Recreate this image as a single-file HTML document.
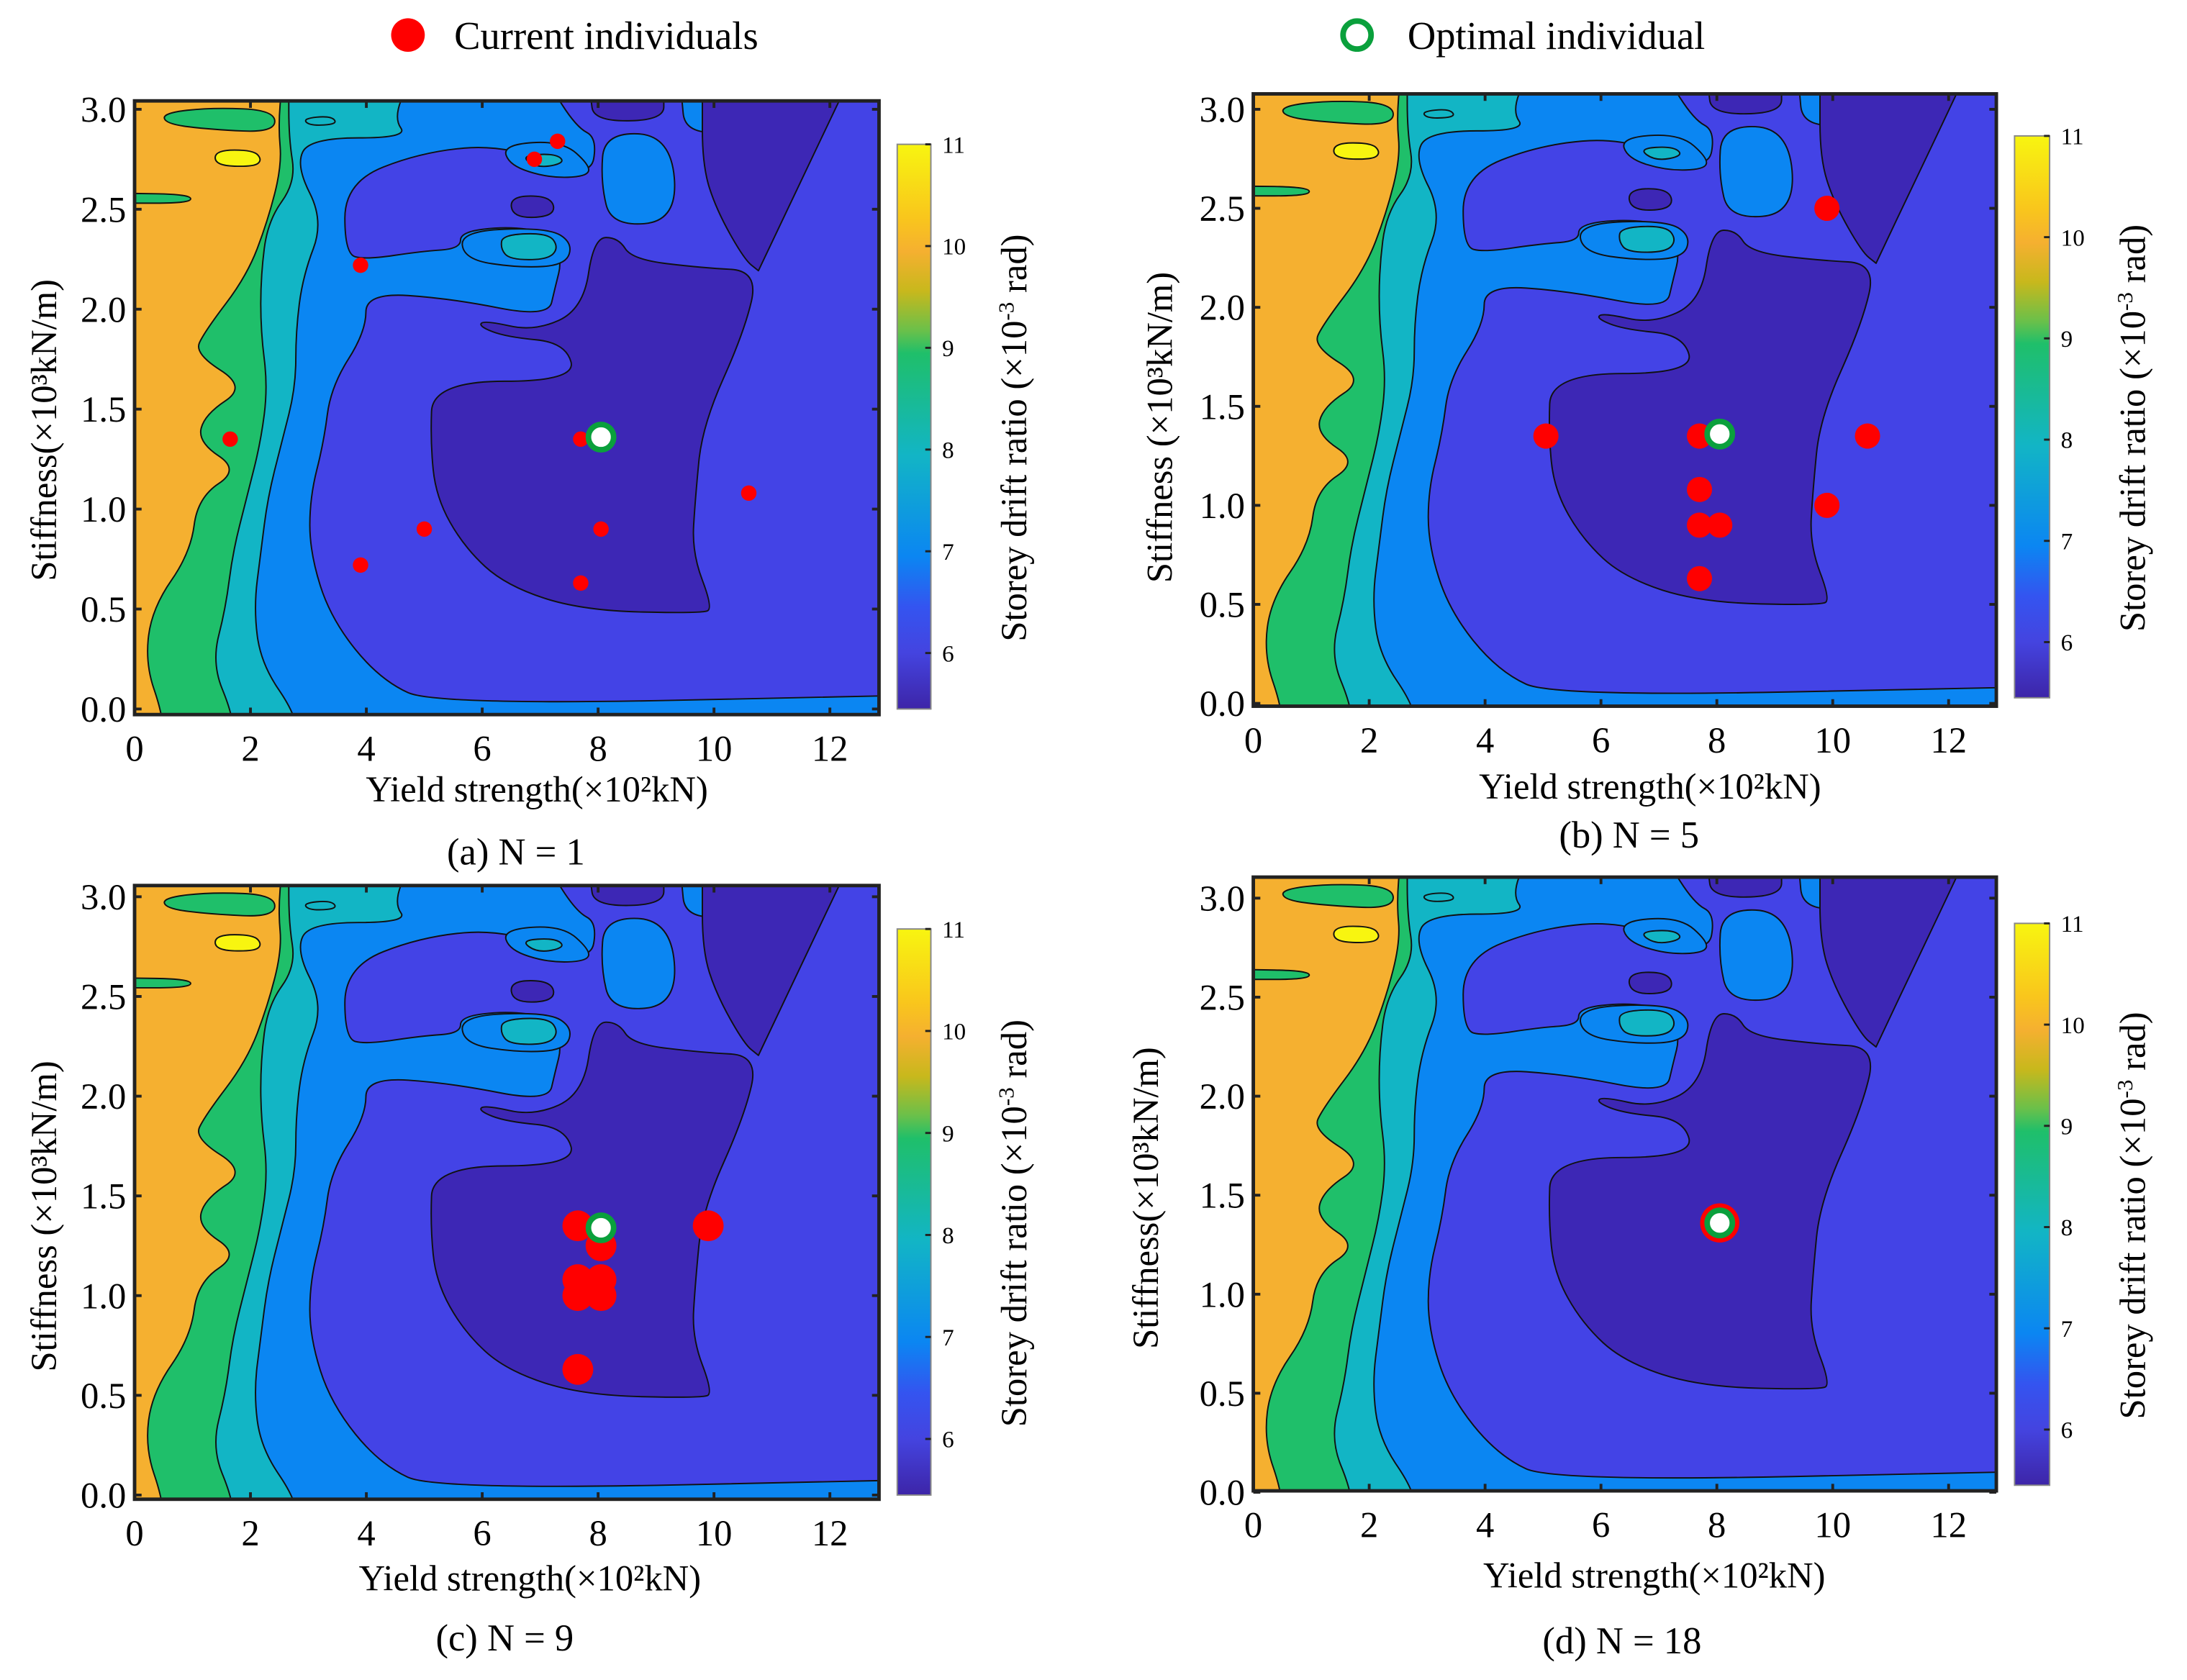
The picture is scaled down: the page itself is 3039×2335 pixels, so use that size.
<!DOCTYPE html>
<html><head><meta charset="utf-8"><style>
html,body{margin:0;padding:0;background:#fff}
svg{display:block}
text{font-family:"Liberation Serif",serif;fill:#000}
</style></head><body>
<svg id="fig" width="3039" height="2335" viewBox="0 0 1560 1199" preserveAspectRatio="none" xmlns="http://www.w3.org/2000/svg">
<defs>
<linearGradient id="cbg" x1="0" y1="0" x2="0" y2="1">
<stop offset="0" stop-color="#f8f510"/>
<stop offset="0.13" stop-color="#f9c61c"/>
<stop offset="0.19" stop-color="#f5b030"/>
<stop offset="0.26" stop-color="#c8b81c"/>
<stop offset="0.33" stop-color="#6ac04a"/>
<stop offset="0.37" stop-color="#1fbf6a"/>
<stop offset="0.55" stop-color="#12b5c5"/>
<stop offset="0.73" stop-color="#0b86f2"/>
<stop offset="0.82" stop-color="#3454f0"/>
<stop offset="0.9" stop-color="#4444e0"/>
<stop offset="1" stop-color="#3d25a8"/>
</linearGradient>
</defs>
<g>
<circle cx="291" cy="25" r="12" fill="#ff0000"/>
<text x="324" y="35" font-size="28">Current individuals</text>
<circle cx="968" cy="25" r="10" fill="#fff" stroke="#0aa03c" stroke-width="4"/>
<text x="1004" y="35" font-size="28">Optimal individual</text>
</g>
<g id="panels"></g>
</svg>
<script>
// ---- data ----
const xTicks = [0,2,4,6,8,10,12];
const yTicks = [0.0,0.5,1.0,1.5,2.0,2.5,3.0];
const cbTicks = [6,7,8,9,10,11];
const optimalX = [8.05, 8.05, 8.05, 8.05];
const optimalY = [1.36, 1.36, 1.34, 1.36];
const currentA_x = [1.65,3.9,3.9,5.0,6.9,7.3,7.7,8.05,7.7,10.6];
const currentA_y = [1.35,2.22,0.72,0.9,2.75,2.84,1.35,0.9,0.63,1.08];
const currentB_x = [5.05,7.7,7.7,7.7,8.05,7.7,9.9,9.9,10.6];
const currentB_y = [1.35,1.35,1.08,0.9,0.9,0.63,2.5,1.0,1.35];
const currentC_x = [7.65,9.9,8.05,7.65,7.65,8.05,8.05,7.65];
const currentC_y = [1.35,1.35,1.25,1.08,1.0,1.08,1.0,0.63];
const currentD_x = [8.05];
const currentD_y = [1.36];

const panels = [
 {id:'a',L:96,T:72,W:531,H:438,x0:96,y0:506,y3:78,cb:[640,103,664,506],cap:'(a) N = 1',capX:368,capY:617,xl:383,xlY:572,yl:'Stiffness(×10³kN/m)',ylX:40,ylY:307,cx:currentA_x,cy:currentA_y,r:5.5},
 {id:'b',L:894,T:67,W:530,H:437,x0:894,y0:502,y3:78,cb:[1437,97,1462,498],cap:'(b) N = 5',capX:1162,capY:605,xl:1177,xlY:570,yl:'Stiffness (×10³kN/m)',ylX:836,ylY:305,cx:currentB_x,cy:currentB_y,r:9},
 {id:'c',L:96,T:632,W:531,H:438,x0:96,y0:1067,y3:640,cb:[640,663,664,1067],cap:'(c) N = 9',capX:360,capY:1178,xl:378,xlY:1135,yl:'Stiffness (×10³kN/m)',ylX:40,ylY:868,cx:currentC_x,cy:currentC_y,r:11},
 {id:'d',L:894,T:626,W:530,H:438,x0:894,y0:1065,y3:641,cb:[1437,659,1462,1060],cap:'(d) N = 18',capX:1157,capY:1180,xl:1180,xlY:1133,yl:'Stiffness(×10³kN/m)',ylX:826,ylY:855,cx:currentD_x,cy:currentD_y,r:14}
];

// contour shapes (decorative); third element 1 = sharp corner
const shapes = [
 ['#1fbf6a',[[400,150,1],[1300,150,1],[1300,1340,1],[230,1340,1],[230,1293],[205,1200],[215,1100],[270,1000],[280,900],[340,850],[280,800],[290,750],[350,700],[275,640],[290,600],[350,500],[380,400],[400,300],[395,230]]],
 ['#1fbf6a',[[230,205],[300,195],[390,200],[390,240],[300,235],[235,225]]],
 ['#1fbf6a',[[170,350,1],[270,352],[270,368],[170,368,1]]],
 ['#f8f510',[[305,272],[360,272],[372,290],[360,302],[305,300]]],
 ['#12b5c5',[[410,150,1],[1300,150,1],[1300,1340,1],[330,1340,1],[330,1293],[300,1200],[320,1100],[330,1000],[350,900],[370,800],[380,700],[370,600],[370,500],[380,400],[420,330],[410,250]]],
 ['#0b86f2',[[580,150,1],[1300,150,1],[1300,1340,1],[420,1340,1],[420,1293],[370,1200],[360,1100],[370,1000],[380,900],[400,800],[420,700],[420,600],[430,500],[460,400],[420,300],[440,250],[580,250],[560,215]]],
 ['#12b5c5',[[430,215],[470,210],[480,225],[440,228]]],
 ['#4343e6',[[780,150,1],[1300,150,1],[1300,1258,1],[620,1276],[540,1230],[470,1120],[440,1000],[440,900],[460,800],[470,700],[520,600],[520,530],[640,540],[780,575],[790,520],[800,470],[780,420],[720,410],[655,420],[655,450],[600,455],[520,470],[490,460],[490,330],[600,275],[720,262],[840,325],[850,250],[820,230]]],
 ['#0b86f2',[[860,240],[955,245],[965,400],[870,410],[855,330]]],
 ['#0b86f2',[[970,170,1],[1050,170,1],[1052,240],[975,240]]],
 ['#12b5c5',[[1005,200],[1018,205],[1012,215]]],
 ['#0b86f2',[[715,262],[800,255],[840,300],[835,320],[780,322],[725,300]]],
 ['#12b5c5',[[740,282],[790,278],[805,295],[765,305]]],
 ['#0b86f2',[[655,418],[780,412],[815,440],[805,480],[740,485],[660,470]]],
 ['#12b5c5',[[715,425],[780,422],[795,448],[780,470],[725,470],[712,450]]],
 ['#3d27b5',[[725,355],[785,355],[790,392],[730,395]]],
 ['#3d27b5',[[840,170,1],[945,170,1],[945,218],[845,220]]],
 ['#3d27b5',[[615,690],[820,690],[805,620],[720,610],[680,590],[690,580],[760,600],[830,560],[845,430],[880,430],[900,470],[1000,485],[1080,490],[1060,600],[1000,770],[990,900],[985,1000],[1015,1100],[1000,1110],[830,1105],[720,1060],[660,990],[620,900],[612,800]]],
 ['#3d27b5',[[1000,170,1],[1200,170,1],[1140,330],[1080,490,1],[1060,470],[1020,380],[1000,300]]]
];

const NS='http://www.w3.org/2000/svg';
const root=document.getElementById('panels');
function mk(tag,attrs,parent){const e=document.createElementNS(NS,tag);for(const k in attrs)e.setAttribute(k,attrs[k]);(parent||root).appendChild(e);return e;}
function f(v){return v[0].toFixed(1)+','+v[1].toFixed(1);}
function smooth(pts){
 const n=pts.length;const mid=(a,b)=>[(a[0]+b[0])/2,(a[1]+b[1])/2];
 let d='M'+f(mid(pts[n-1],pts[0]));
 for(let i=0;i<n;i++){const m=mid(pts[i],pts[(i+1)%n]);
  if(pts[i][2])d+=' L'+f(pts[i])+' L'+f(m);else d+=' Q'+f(pts[i])+' '+f(m);}
 return d+'Z';
}

panels.forEach(p=>{
 const g=mk('g',{});
 
 
 const kx=(41.33);
 const X=v=>p.x0+v*kx;
 const ky=(p.y0-p.y3)/3;
 const Y=v=>p.y0-v*ky;
 const clipId='clip'+p.id;
 const cp=mk('clipPath',{id:clipId},g);
 mk('rect',{x:p.L,y:p.T,width:p.W,height:p.H},cp);
 const field=mk('g',{'clip-path':'url(#'+clipId+')'},g);
 
 
 mk('rect',{x:p.L,y:p.T,width:p.W,height:p.H,fill:'#f5b030'},field);
 shapes.forEach(s=>{
  const pts=s[1].map(q=>[p.L+(q[0]-190)/2*(p.W/531),p.T+(q[1]-183)/2.534*(p.H/438),q[2]||0]);
  const path=mk('path',{d:smooth(pts),fill:s[0],stroke:'#111','stroke-width':1,'stroke-linejoin':'round'},field);
  
  
 });
 const fr=mk('rect',{x:p.L,y:p.T,width:p.W,height:p.H,fill:'none',stroke:'#222','stroke-width':2.5},g);
 
 
 xTicks.forEach(t=>{
  mk('line',{x1:X(t),x2:X(t),y1:p.T+p.H,y2:p.T+p.H-5,stroke:'#222','stroke-width':2},g);
  mk('line',{x1:X(t),x2:X(t),y1:p.T,y2:p.T+5,stroke:'#222','stroke-width':2},g);
  const tx=mk('text',{x:X(t),y:p.T+p.H+33,'font-size':26,'text-anchor':'middle'},g);
  tx.textContent=t;
  
  
 });
 yTicks.forEach(t=>{
  mk('line',{x1:p.L,x2:p.L+5,y1:Y(t),y2:Y(t),stroke:'#222','stroke-width':2},g);
  mk('line',{x1:p.L+p.W,x2:p.L+p.W-5,y1:Y(t),y2:Y(t),stroke:'#222','stroke-width':2},g);
  const tx=mk('text',{x:p.L-6,y:Y(t)+9,'font-size':26,'text-anchor':'end'},g);
  tx.textContent=t.toFixed(1);
  
  
 });
 const xl=mk('text',{x:p.xl,y:p.xlY,'font-size':26,'text-anchor':'middle'},g);
 xl.textContent='Yield strength(×10²kN)';
 
 
 const yl=mk('text',{x:p.ylX,y:p.ylY,'font-size':26,'text-anchor':'middle',transform:'rotate(-90 '+p.ylX+' '+p.ylY+')'},g);
 yl.textContent=p.yl;
 
 
 const cap=mk('text',{x:p.capX,y:p.capY,'font-size':27,'text-anchor':'middle'},g);
 cap.textContent=p.cap;
 
 
 const [cx1,cy1,cx2,cy2]=p.cb;
 const cb=mk('rect',{x:cx1,y:cy1,width:cx2-cx1,height:cy2-cy1,fill:'url(#cbg)',stroke:'#888','stroke-width':1},g);
 
 
 const cbk=(cy2-cy1)/(11-5.45);
 cbTicks.forEach(t=>{
  const yy=cy1+(11-t)*cbk;
  mk('line',{x1:cx2,x2:cx2-4,y1:yy,y2:yy,stroke:'#222','stroke-width':1.5},g);
  const tx=mk('text',{x:cx2+8,y:yy+6,'font-size':17},g);
  tx.textContent=t;
  
  
 });
 const ctx=cx2+68, cty=(cy1+cy2)/2+8;
 const ct=mk('text',{x:ctx,y:cty,'font-size':26,'text-anchor':'middle',transform:'rotate(-90 '+ctx+' '+cty+')'},g);
 ct.innerHTML='Storey drift ratio (×10<tspan dy="-9" font-size="16">-3</tspan><tspan dy="9"> rad)</tspan>';
 
 
 p.cx.forEach((v,i)=>{
  const c=mk('circle',{cx:X(v),cy:Y(p.cy[i]),r:p.r,fill:'#ff0000'},g);
  
  
 });
 const pi=panels.indexOf(p);
 const o=mk('circle',{cx:X(optimalX[pi]),cy:Y(optimalY[pi]),r:9,fill:'#fff',stroke:'#0aa03c','stroke-width':4},g);
 
 
});
</script>
</body></html>
